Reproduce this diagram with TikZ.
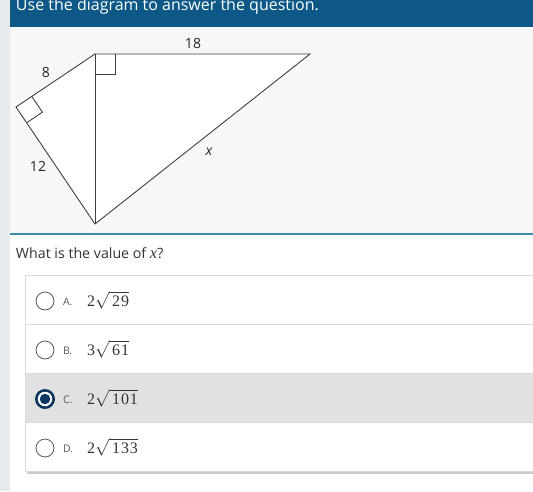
\documentclass[tikz,border=0pt]{standalone}
\usepackage{fontspec}
\setmainfont{Open Sans}
\newfontfamily\ansfont[LetterSpace=6]{Liberation Serif}
\newfontfamily\varfont{Liberation Serif}
\usetikzlibrary{positioning,calc}

\definecolor{headblue}{HTML}{0D5886}
\definecolor{sidegray}{HTML}{E7EBEE}
\definecolor{panelgray}{HTML}{F7F7F7}
\definecolor{tealline}{HTML}{3B8EA5}
\definecolor{rowline}{HTML}{D9D9D9}
\definecolor{rowsel}{HTML}{E1E1E1}
\definecolor{navy}{HTML}{0C3560}
\definecolor{txt}{HTML}{333333}

\newcommand{\ans}[2]{\mbox{\ansfont #1}\sqrt{\mbox{\ansfont\,#2}}}

\tikzset{
  edge/.style={draw=black!75, line width=0.9pt},
  sidelabel/.style={font=\fontsize{14}{16}\selectfont, text=black!85},
  radio/.style={circle, draw=black!65, line width=0.8pt, fill=white, minimum size=18pt},
  letter/.style={anchor=base west, font=\fontsize{10.5}{12}\selectfont, text=black!65},
  answer/.style={anchor=base west, font=\fontsize{16}{18}\selectfont, text=txt}
}

\begin{document}
\begin{tikzpicture}[x=1pt, y=-1pt, inner sep=0, outer sep=0]
  \useasboundingbox (0,0) rectangle (533,491);
  \fill[white] (0,0) rectangle (533,491);
  \fill[sidegray] (0,0) rectangle (10,491);

  % header
  \fill[headblue] (10,0) rectangle (533,27);
  \node[anchor=base west, text=white, font=\fontsize{16}{18}\selectfont] (title) at (16,10) {Use the diagram to answer the question.};
  \fill[panelgray] (10,27) rectangle (533,233);
  \draw[tealline, line width=1.8pt] (10,234) -- (533,234);

  % triangle
  \coordinate (T) at (95,54);
  \coordinate (R) at (310,54);
  \coordinate (B) at (95,224);
  \coordinate (L) at (16,107);
  \filldraw[edge, fill=white] (L) -- (T) -- (R) -- (B) -- cycle;
  \draw[edge] (T) -- (B);
  % right angles
  \draw[edge] ([xshift=20pt]T) -- ([xshift=20pt, yshift=-20pt]T) -- ([yshift=-20pt]T);
  \coordinate (la) at ($(L)!19pt!(T)$);
  \coordinate (lb) at ($(L)!19pt!(B)$);
  \draw[edge] (la) -- ($(la)+(lb)-(L)$) -- (lb);

  \node[sidelabel] (top) at (193,43) {18};
  \node[sidelabel] (short) at (46,72) {8};
  \node[sidelabel] (long) at (38,166) {12};
  \node[sidelabel, font=\fontsize{14}{16}\selectfont\itshape] (hyp) at (209,152) {x};

  % question
  \node[anchor=base west, text=txt, font=\fontsize{14.2}{16}\selectfont] (question) at (16,258) {What is the value of \varfont\itshape\fontsize{16.5}{18}\selectfont x\normalfont\fontsize{14.2}{16}\selectfont?};

  % answer rows
  \fill[black!20] (27,471) rectangle (533,473.5);
  \fill[rowsel] (25,373) rectangle (533,422);
  \draw[rowline, line width=0.8pt] (25,275) rectangle (533,471);
  \draw[rowline, line width=0.8pt] (25,324) -- (533,324);
  \draw[rowline, line width=0.8pt] (25,373) -- (533,373);
  \draw[rowline, line width=0.8pt] (25,422) -- (533,422);

  \node[radio] (ra) at (45,301) {};
  \node[radio] (rb) at (45,350) {};
  \node[circle, fill=navy, minimum size=20pt] (rc) at (45,399) {};
  \node[circle, fill=white, minimum size=14.5pt] (rcring) at (rc.center) {};
  \node[circle, fill=navy, minimum size=10.5pt] (rcdot) at (rc.center) {};
  \node[radio] (rd) at (45,448) {};

  \node[letter] (la) at (63,305) {A.};
  \node[letter] (lb) at (63,354) {B.};
  \node[letter] (lc) at (63,403) {C.};
  \node[letter] (ld) at (63,452) {D.};

  \node[answer] (aa) at (87,306) {$\ans{2}{29}$};
  \node[answer] (ab) at (87,355) {$\ans{3}{61}$};
  \node[answer] (ac) at (87,404) {$\ans{2}{101}$};
  \node[answer] (ad) at (87,453) {$\ans{2}{133}$};
\end{tikzpicture}
\end{document}
